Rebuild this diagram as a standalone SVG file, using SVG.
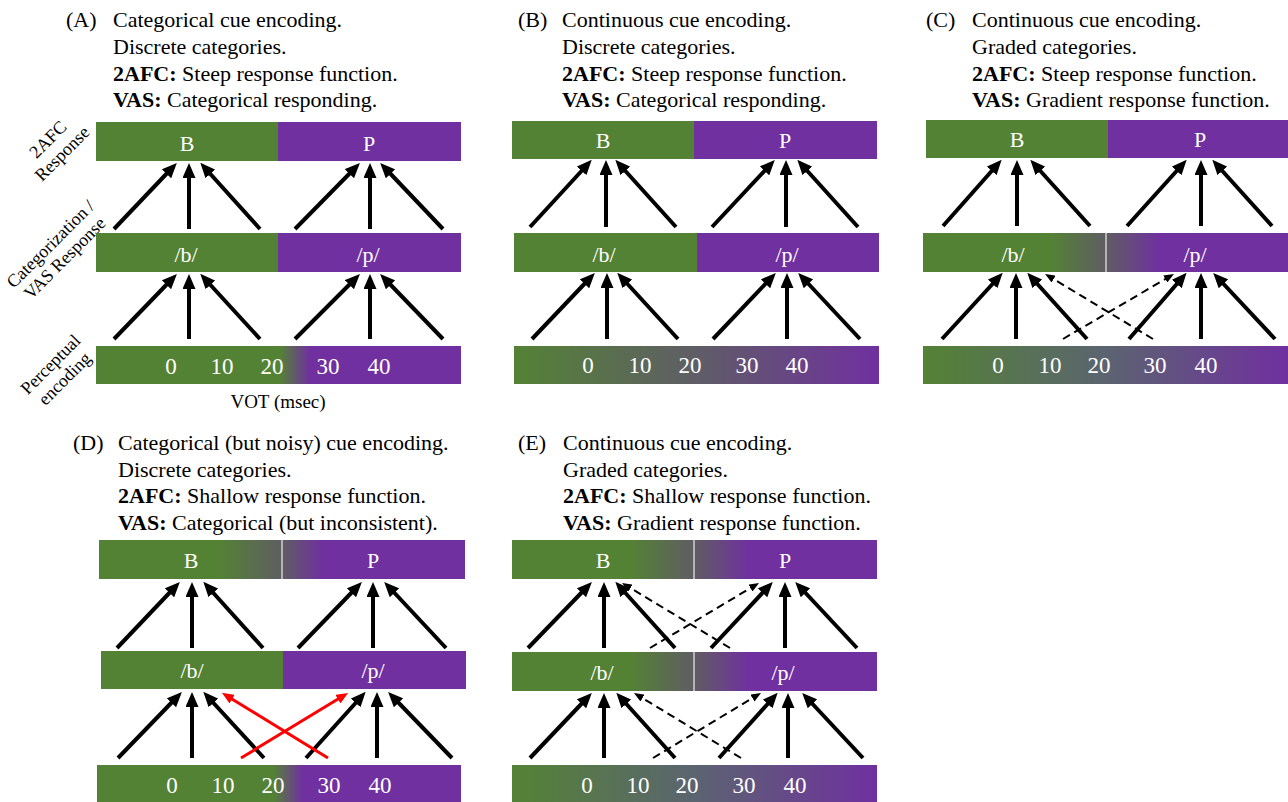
<svg xmlns="http://www.w3.org/2000/svg" width="1288" height="802" viewBox="0 0 1288 802">
<style>
text{font-family:"Liberation Serif","Times New Roman",serif;}
.hd{font-size:22px;fill:#000;}
.b{font-weight:bold;}
.lab{font-size:22px;fill:#fff;text-anchor:middle;}
.num{font-size:23px;fill:#fff;text-anchor:middle;}
.side{font-size:18px;fill:#000;text-anchor:middle;}
.g{fill:#548235;}
.p{fill:#7030A0;}
.ol{fill:none;stroke:#ffffff;stroke-opacity:0.35;stroke-width:1;}
.split{stroke:#d0d0d0;stroke-width:1.5;}
.ar{stroke:#000;stroke-width:4;fill:none;marker-end:url(#ah);}
.da{stroke:#000;stroke-width:2;stroke-dasharray:8 5;fill:none;marker-end:url(#ahd);}
.ra{stroke:#ff0000;stroke-width:3;fill:none;marker-end:url(#ahr);}
</style>
<defs>
<marker id="ah" markerUnits="userSpaceOnUse" markerWidth="15" markerHeight="13" refX="8" refY="6.5" orient="auto"><path d="M0,0 L15,6.5 L0,13 Z" fill="#000"/></marker>
<marker id="ahd" markerUnits="userSpaceOnUse" markerWidth="10" markerHeight="8" refX="6" refY="4" orient="auto"><path d="M0,0 L10,4 L0,8 Z" fill="#000"/></marker>
<marker id="ahr" markerUnits="userSpaceOnUse" markerWidth="12" markerHeight="10" refX="6" refY="5" orient="auto"><path d="M0,0 L12,5 L0,10 Z" fill="#ff0000"/></marker>
<linearGradient id="gAbot" gradientUnits="userSpaceOnUse" x1="280" y1="0" x2="310" y2="0"><stop offset="0" stop-color="#548235"/><stop offset="1" stop-color="#7030A0"/></linearGradient>
<linearGradient id="gBbot" gradientUnits="userSpaceOnUse" x1="514" y1="0" x2="879" y2="0"><stop offset="0" stop-color="#548235"/><stop offset="0.5" stop-color="#5f5d66"/><stop offset="1" stop-color="#7030A0"/></linearGradient>
<linearGradient id="gCmid" gradientUnits="userSpaceOnUse" x1="1050" y1="0" x2="1160" y2="0"><stop offset="0" stop-color="#548235"/><stop offset="0.51" stop-color="#5f5d62"/><stop offset="1" stop-color="#7030A0"/></linearGradient>
<linearGradient id="gCbot" gradientUnits="userSpaceOnUse" x1="923" y1="0" x2="1288" y2="0"><stop offset="0" stop-color="#548235"/><stop offset="0.5" stop-color="#5b6470"/><stop offset="1" stop-color="#7030A0"/></linearGradient>
<linearGradient id="gDtop" gradientUnits="userSpaceOnUse" x1="220" y1="0" x2="323" y2="0"><stop offset="0" stop-color="#548235"/><stop offset="0.6" stop-color="#5f5d62"/><stop offset="1" stop-color="#7030A0"/></linearGradient>
<linearGradient id="gDbot" gradientUnits="userSpaceOnUse" x1="273" y1="0" x2="303" y2="0"><stop offset="0" stop-color="#548235"/><stop offset="1" stop-color="#7030A0"/></linearGradient>
<linearGradient id="gEtop" gradientUnits="userSpaceOnUse" x1="630" y1="0" x2="750" y2="0"><stop offset="0" stop-color="#548235"/><stop offset="0.53" stop-color="#5f5d62"/><stop offset="1" stop-color="#7030A0"/></linearGradient>
<linearGradient id="gEbot" gradientUnits="userSpaceOnUse" x1="512" y1="0" x2="877" y2="0"><stop offset="0" stop-color="#548235"/><stop offset="0.5" stop-color="#5b6470"/><stop offset="1" stop-color="#7030A0"/></linearGradient>
</defs>
<rect width="1288" height="802" fill="#fff"/>

<!-- Headers -->
<g id="headers">
<g id="headA"><text class="hd" x="66" y="27">(A)</text>
<text class="hd" x="113" y="27">Categorical cue encoding.</text>
<text class="hd" x="113" y="54">Discrete categories.</text>
<text class="hd" x="113" y="81"><tspan class="b">2AFC:</tspan> Steep response function.</text>
<text class="hd" x="113" y="107"><tspan class="b">VAS:</tspan> Categorical responding.</text></g>
<g id="headB"><text class="hd" x="518" y="27">(B)</text>
<text class="hd" x="562" y="27">Continuous cue encoding.</text>
<text class="hd" x="562" y="54">Discrete categories.</text>
<text class="hd" x="562" y="81"><tspan class="b">2AFC:</tspan> Steep response function.</text>
<text class="hd" x="562" y="107"><tspan class="b">VAS:</tspan> Categorical responding.</text></g>
<g id="headC"><text class="hd" x="926" y="27">(C)</text>
<text class="hd" x="972" y="27">Continuous cue encoding.</text>
<text class="hd" x="972" y="54">Graded categories.</text>
<text class="hd" x="972" y="81"><tspan class="b">2AFC:</tspan> Steep response function.</text>
<text class="hd" x="972" y="107"><tspan class="b">VAS:</tspan> Gradient response function.</text></g>
<g id="headD"><text class="hd" x="73" y="450">(D)</text>
<text class="hd" x="118" y="450">Categorical (but noisy) cue encoding.</text>
<text class="hd" x="118" y="477">Discrete categories.</text>
<text class="hd" x="118" y="503"><tspan class="b">2AFC:</tspan> Shallow response function.</text>
<text class="hd" x="118" y="530"><tspan class="b">VAS:</tspan> Categorical (but inconsistent).</text></g>
<g id="headE"><text class="hd" x="518" y="450">(E)</text>
<text class="hd" x="563" y="450">Continuous cue encoding.</text>
<text class="hd" x="563" y="477">Graded categories.</text>
<text class="hd" x="563" y="503"><tspan class="b">2AFC:</tspan> Shallow response function.</text>
<text class="hd" x="563" y="530"><tspan class="b">VAS:</tspan> Gradient response function.</text></g>
</g>

<!-- Side labels -->
<g id="sideLabels">
<text class="side" transform="translate(55,146.5) rotate(-45)"><tspan x="0" y="-4">2AFC</tspan><tspan x="0" y="16">Response</tspan></text>
<text class="side" transform="translate(57.5,251) rotate(-45)"><tspan x="0" y="-4">Categorization /</tspan><tspan x="0" y="16">VAS Response</tspan></text>
<text class="side" transform="translate(57.5,371.5) rotate(-45)"><tspan x="0" y="-4">Perceptual</tspan><tspan x="0" y="16">encoding</tspan></text>
<text x="278" y="408" style="font-size:19px;text-anchor:middle">VOT (msec)</text>
</g>

<!-- Panel A -->
<g id="panelA">
<g id="A_B"><rect class="g" x="96" y="122" width="182" height="39"/><text class="lab" x="187" y="151">B</text></g>
<g id="A_P"><rect class="p" x="278" y="122" width="183" height="39"/><text class="lab" x="369" y="151">P</text></g>
<g id="A_b"><rect class="g" x="96" y="233" width="182" height="39"/><text class="lab" x="186" y="262">/b/</text></g>
<g id="A_p"><rect class="p" x="278" y="233" width="183" height="39"/><text class="lab" x="368" y="262">/p/</text></g>
<g id="A_vot"><rect x="96" y="346" width="365" height="38" fill="url(#gAbot)"/>
<text class="num" x="171" y="374">0</text><text class="num" x="222" y="374">10</text><text class="num" x="272" y="374">20</text><text class="num" x="328" y="374">30</text><text class="num" x="379" y="374">40</text></g>
</g>

<!-- Panel B -->
<g id="panelB">
<g id="B_B"><rect class="g" x="512" y="121" width="182" height="38"/><text class="lab" x="603" y="148">B</text></g>
<g id="B_P"><rect class="p" x="694" y="121" width="183" height="38"/><text class="lab" x="785" y="148">P</text></g>
<g id="B_b"><rect class="g" x="514" y="233" width="183" height="39"/><text class="lab" x="604" y="262">/b/</text></g>
<g id="B_p"><rect class="p" x="697" y="233" width="182" height="39"/><text class="lab" x="787" y="262">/p/</text></g>
<g id="B_vot"><rect x="514" y="346" width="365" height="38" fill="url(#gBbot)"/>
<text class="num" x="588" y="373">0</text><text class="num" x="640" y="373">10</text><text class="num" x="690" y="373">20</text><text class="num" x="747" y="373">30</text><text class="num" x="797" y="373">40</text></g>
</g>

<!-- Panel C -->
<g id="panelC">
<g id="C_B"><rect class="g" x="926" y="120" width="182" height="38"/><text class="lab" x="1017" y="147">B</text></g>
<g id="C_P"><rect class="p" x="1108" y="120" width="182" height="38"/><text class="lab" x="1200" y="147">P</text></g>
<g id="C_bp"><rect x="923" y="233" width="367" height="39" fill="url(#gCmid)"/><line class="split" x1="1106" y1="233" x2="1106" y2="272"/>
<text class="lab" x="1013" y="262">/b/</text><text class="lab" x="1195" y="262">/p/</text></g>
<g id="C_vot"><rect x="923" y="346" width="367" height="38" fill="url(#gCbot)"/>
<text class="num" x="998" y="373">0</text><text class="num" x="1050" y="373">10</text><text class="num" x="1099" y="373">20</text><text class="num" x="1155" y="373">30</text><text class="num" x="1206" y="373">40</text></g>
</g>

<!-- Panel D -->
<g id="panelD">
<g id="D_BP"><rect x="99" y="540" width="366" height="39" fill="url(#gDtop)"/><line class="split" x1="282" y1="540" x2="282" y2="579"/>
<text class="lab" x="191" y="568">B</text><text class="lab" x="373" y="568">P</text></g>
<g id="D_b"><rect class="g" x="101" y="651" width="182" height="38"/><text class="lab" x="192" y="678">/b/</text></g>
<g id="D_p"><rect class="p" x="283" y="651" width="183" height="38"/><text class="lab" x="373" y="678">/p/</text></g>
<g id="D_vot"><rect x="97" y="765" width="364" height="40" fill="url(#gDbot)"/>
<text class="num" x="172" y="793">0</text><text class="num" x="223" y="793">10</text><text class="num" x="273" y="793">20</text><text class="num" x="329" y="793">30</text><text class="num" x="380" y="793">40</text></g>
</g>

<!-- Panel E -->
<g id="panelE">
<g id="E_BP"><rect x="512" y="540" width="365" height="39" fill="url(#gEtop)"/><line class="split" x1="694" y1="540" x2="694" y2="579"/>
<text class="lab" x="603" y="568">B</text><text class="lab" x="785" y="568">P</text></g>
<g id="E_bp"><rect x="512" y="652" width="365" height="39" fill="url(#gEtop)"/><line class="split" x1="694" y1="652" x2="694" y2="691"/>
<text class="lab" x="602" y="680">/b/</text><text class="lab" x="783" y="680">/p/</text></g>
<g id="E_vot"><rect x="512" y="765" width="365" height="40" fill="url(#gEbot)"/>
<text class="num" x="587" y="793">0</text><text class="num" x="638" y="793">10</text><text class="num" x="687" y="793">20</text><text class="num" x="744" y="793">30</text><text class="num" x="795" y="793">40</text></g>
</g>

<!-- Connectors -->
<g id="connectors">
<!-- A -->
<line class="ar" x1="114" y1="229" x2="172" y2="168"/>
<line class="ar" x1="189" y1="229" x2="189" y2="170"/>
<line class="ar" x1="260" y1="229" x2="205" y2="168"/>
<line class="ar" x1="295" y1="229" x2="355" y2="168"/>
<line class="ar" x1="370" y1="229" x2="370" y2="170"/>
<line class="ar" x1="443" y1="229" x2="385" y2="168"/>
<line class="ar" x1="114" y1="339" x2="172" y2="279"/>
<line class="ar" x1="189" y1="339" x2="189" y2="281"/>
<line class="ar" x1="260" y1="339" x2="205" y2="279"/>
<line class="ar" x1="295" y1="339" x2="355" y2="279"/>
<line class="ar" x1="370" y1="339" x2="370" y2="281"/>
<line class="ar" x1="443" y1="339" x2="385" y2="279"/>
<!-- B -->
<line class="ar" x1="530" y1="227" x2="587" y2="165"/>
<line class="ar" x1="606" y1="227" x2="606" y2="167"/>
<line class="ar" x1="676" y1="227" x2="620" y2="165"/>
<line class="ar" x1="712" y1="227" x2="770" y2="165"/>
<line class="ar" x1="786" y1="227" x2="786" y2="167"/>
<line class="ar" x1="858" y1="227" x2="802" y2="165"/>
<line class="ar" x1="532" y1="339" x2="590" y2="278"/>
<line class="ar" x1="607" y1="339" x2="607" y2="280"/>
<line class="ar" x1="678" y1="339" x2="622" y2="278"/>
<line class="ar" x1="713" y1="339" x2="771" y2="278"/>
<line class="ar" x1="787" y1="339" x2="787" y2="280"/>
<line class="ar" x1="860" y1="339" x2="803" y2="278"/>
<!-- C -->
<line class="ar" x1="943" y1="226" x2="997" y2="165"/>
<line class="ar" x1="1017" y1="226" x2="1017" y2="167"/>
<line class="ar" x1="1090" y1="226" x2="1035" y2="165"/>
<line class="ar" x1="1127" y1="226" x2="1182" y2="165"/>
<line class="ar" x1="1201" y1="226" x2="1201" y2="167"/>
<line class="ar" x1="1272" y1="226" x2="1217" y2="165"/>
<line class="ar" x1="942" y1="339" x2="998" y2="278"/>
<line class="ar" x1="1016" y1="339" x2="1016" y2="280"/>
<line class="ar" x1="1087" y1="339" x2="1032" y2="278"/>
<line class="ar" x1="1129" y1="339" x2="1182" y2="278"/>
<line class="ar" x1="1201" y1="339" x2="1201" y2="280"/>
<line class="ar" x1="1275" y1="339" x2="1218" y2="278"/>
<line class="da" x1="1153" y1="339" x2="1048.5" y2="276"/>
<line class="da" x1="1063" y1="339" x2="1170.5" y2="276"/>
<!-- D -->
<line class="ar" x1="117" y1="648" x2="175" y2="587"/>
<line class="ar" x1="192" y1="648" x2="192" y2="589"/>
<line class="ar" x1="263" y1="648" x2="208" y2="587"/>
<line class="ar" x1="298" y1="648" x2="357" y2="587"/>
<line class="ar" x1="373" y1="648" x2="373" y2="589"/>
<line class="ar" x1="446" y1="648" x2="389" y2="587"/>
<line class="ar" x1="118" y1="758" x2="177" y2="697"/>
<line class="ar" x1="192" y1="758" x2="192" y2="699"/>
<line class="ar" x1="264" y1="758" x2="208" y2="697"/>
<line class="ar" x1="306" y1="758" x2="361" y2="697"/>
<line class="ar" x1="377" y1="758" x2="377" y2="699"/>
<line class="ar" x1="452" y1="758" x2="393" y2="697"/>
<line class="ra" x1="328" y1="758" x2="227" y2="696"/>
<line class="ra" x1="241" y1="758" x2="343" y2="696"/>
<!-- E -->
<line class="ar" x1="528" y1="648" x2="587" y2="587"/>
<line class="ar" x1="604" y1="648" x2="604" y2="589"/>
<line class="ar" x1="675" y1="648" x2="620" y2="587"/>
<line class="ar" x1="711" y1="648" x2="768" y2="587"/>
<line class="ar" x1="785" y1="648" x2="785" y2="589"/>
<line class="ar" x1="857" y1="648" x2="800" y2="587"/>
<line class="da" x1="730" y1="648" x2="625.4" y2="585"/>
<line class="da" x1="650" y1="648" x2="755.6" y2="585"/>
<line class="ar" x1="530" y1="758" x2="587" y2="698"/>
<line class="ar" x1="604" y1="758" x2="604" y2="700"/>
<line class="ar" x1="675" y1="758" x2="621" y2="698"/>
<line class="ar" x1="719" y1="758" x2="773" y2="698"/>
<line class="ar" x1="788" y1="758" x2="788" y2="700"/>
<line class="ar" x1="863" y1="758" x2="807" y2="698"/>
<line class="da" x1="741" y1="758" x2="637.4" y2="695"/>
<line class="da" x1="653" y1="758" x2="757.6" y2="695"/>
</g>
</svg>
